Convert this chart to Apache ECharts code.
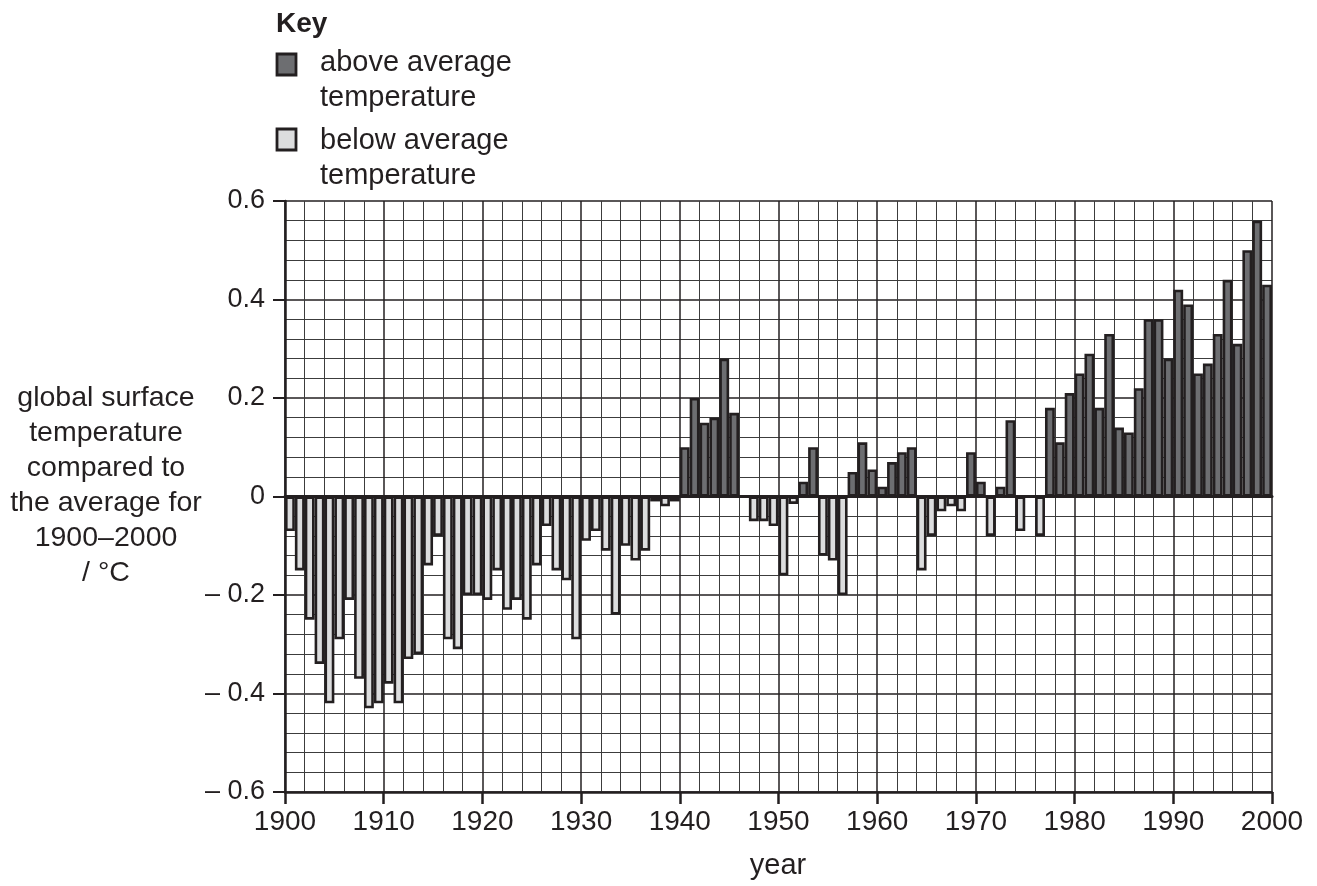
<!DOCTYPE html>
<html>
<head>
<meta charset="utf-8">
<script src="https://cdn.jsdelivr.net/npm/echarts@6/dist/echarts.min.js"></script>
<style>
html,body{margin:0;padding:0;background:#fff;}
#chart{width:1317px;height:886px;}
</style>
</head>
<body>
<div id="chart"></div>
<script>
// Years 1900..1999 (one bar per year)
const years = [];
for (let y = 1900; y <= 1999; y++) years.push(String(y));

// Temperature anomaly (°C) compared to 1900–2000 average
const anomalies = [
  -0.07, -0.15, -0.25, -0.34, -0.42, -0.29, -0.21, -0.37, -0.43, -0.42, // 1900-1909
  -0.38, -0.42, -0.33, -0.32, -0.14, -0.08, -0.29, -0.31, -0.20, -0.20, // 1910-1919
  -0.21, -0.15, -0.23, -0.21, -0.25, -0.14, -0.06, -0.15, -0.17, -0.29, // 1920-1929
  -0.09, -0.07, -0.11, -0.24, -0.10, -0.13, -0.11, -0.01, -0.02, -0.01, // 1930-1939
   0.10,  0.20,  0.15,  0.16,  0.28,  0.17,  0.00, -0.05, -0.05, -0.06, // 1940-1949
  -0.16, -0.015, 0.03,  0.10, -0.12, -0.13, -0.20,  0.05,  0.11,  0.055,// 1950-1959
   0.02,  0.07,  0.09,  0.10, -0.15, -0.08, -0.03, -0.02, -0.03,  0.09, // 1960-1969
   0.03, -0.08,  0.02,  0.155,-0.07,  0.00, -0.08,  0.18,  0.11,  0.21, // 1970-1979
   0.25,  0.29,  0.18,  0.33,  0.14,  0.13,  0.22,  0.36,  0.36,  0.28, // 1980-1989
   0.42,  0.39,  0.25,  0.27,  0.33,  0.44,  0.31,  0.50,  0.56,  0.43  // 1990-1999
];

const yTicks = { min: -0.6, max: 0.6, interval: 0.2 };
const xTicks = { min: 1900, max: 2000, interval: 10 };

const aboveData = anomalies.map(v => (v > 0 ? v : null));
const belowData = anomalies.map(v => (v < 0 ? v : null));

const INK = '#231f20';
const MINOR = '#3c3c3c';
const DARK = '#6d6e71';
const LIGHT = '#dcddde';
const FONT = "'Liberation Sans', Arial, Helvetica, sans-serif";

const chart = echarts.init(document.getElementById('chart'), null, { renderer: 'canvas' });

const option = {
  animation: false,
  backgroundColor: '#fff',
  textStyle: { fontFamily: FONT },
  grid: { left: 285, right: 45, top: 201, bottom: 94, containLabel: false },
  xAxis: [
    {
      type: 'category',
      data: years,
      boundaryGap: true,
      position: 'bottom',
      z: 5,
      axisLine: { show: true, onZero: true, lineStyle: { color: INK, width: 3 } },
      axisTick: { show: false },
      axisLabel: { show: false },
      splitLine: { show: false }
    },
    {
      type: 'value',
      min: xTicks.min,
      max: xTicks.max,
      interval: xTicks.interval,
      position: 'bottom',
      axisLine: { show: true, onZero: false, lineStyle: { color: INK, width: 2.5 } },
      axisTick: { show: true, length: 12, lineStyle: { color: INK, width: 2.5 } },
      axisLabel: { show: true, margin: 16, fontSize: 28, color: INK, fontFamily: FONT, formatter: v => String(v) },
      splitLine: { show: true, lineStyle: { color: INK, width: 1.5 } },
      minorTick: { show: false, splitNumber: 5 },
      minorSplitLine: { show: true, lineStyle: { color: MINOR, width: 1 } }
    }
  ],
  yAxis: {
    type: 'value',
    min: yTicks.min,
    max: yTicks.max,
    interval: yTicks.interval,
    axisLine: { show: true, onZero: false, lineStyle: { color: INK, width: 2.5 } },
    axisTick: { show: true, length: 12, lineStyle: { color: INK, width: 2 } },
    axisLabel: {
      margin: 20,
      fontSize: 27,
      color: INK,
      fontFamily: FONT,
      formatter: function (v) {
        const r = Math.round(v * 10) / 10;
        if (r === 0) return '0';
        return r < 0 ? '\u2013 ' + Math.abs(r).toFixed(1) : r.toFixed(1);
      }
    },
    splitLine: { show: true, lineStyle: { color: INK, width: 1.5 } },
    minorTick: { show: false, splitNumber: 5 },
    minorSplitLine: { show: true, lineStyle: { color: MINOR, width: 1 } }
  },
  series: [
    {
      name: 'above average temperature',
      type: 'bar',
      xAxisIndex: 0,
      data: aboveData,
      barWidth: '100%',
      barGap: '-100%',
      barCategoryGap: '0%',
      itemStyle: { color: DARK, borderColor: INK, borderWidth: 2.6 }
    },
    {
      name: 'below average temperature',
      type: 'bar',
      xAxisIndex: 0,
      data: belowData,
      barWidth: '100%',
      barGap: '-100%',
      barCategoryGap: '0%',
      itemStyle: { color: LIGHT, borderColor: INK, borderWidth: 2.6 }
    }
  ],
  graphic: [
    { type: 'text', x: 276, y: 24, style: { text: 'Key', fontSize: 28, fontWeight: 'bold', fill: INK, fontFamily: FONT, textAlign: 'left', textVerticalAlign: 'middle' } },
    { type: 'rect', shape: { x: 277, y: 54, width: 19, height: 21 }, style: { fill: DARK, stroke: INK, lineWidth: 2.8 } },
    { type: 'text', x: 320, y: 80, style: { text: 'above average\ntemperature', fontSize: 29, lineHeight: 35, fill: INK, fontFamily: FONT, textAlign: 'left', textVerticalAlign: 'middle' } },
    { type: 'rect', shape: { x: 277, y: 129, width: 19, height: 21 }, style: { fill: LIGHT, stroke: INK, lineWidth: 2.8 } },
    { type: 'text', x: 320, y: 158, style: { text: 'below average\ntemperature', fontSize: 29, lineHeight: 35, fill: INK, fontFamily: FONT, textAlign: 'left', textVerticalAlign: 'middle' } },
    { type: 'text', x: 106, y: 486, style: { text: 'global surface\ntemperature\ncompared to\nthe average for\n1900\u20132000\n/ \u00b0C', fontSize: 28.5, lineHeight: 35, fill: INK, fontFamily: FONT, textAlign: 'center', textVerticalAlign: 'middle' } },
    { type: 'text', x: 778, y: 866, style: { text: 'year', fontSize: 29, fill: INK, fontFamily: FONT, textAlign: 'center', textVerticalAlign: 'middle' } }
  ]
};

chart.setOption(option);
</script>
</body>
</html>
